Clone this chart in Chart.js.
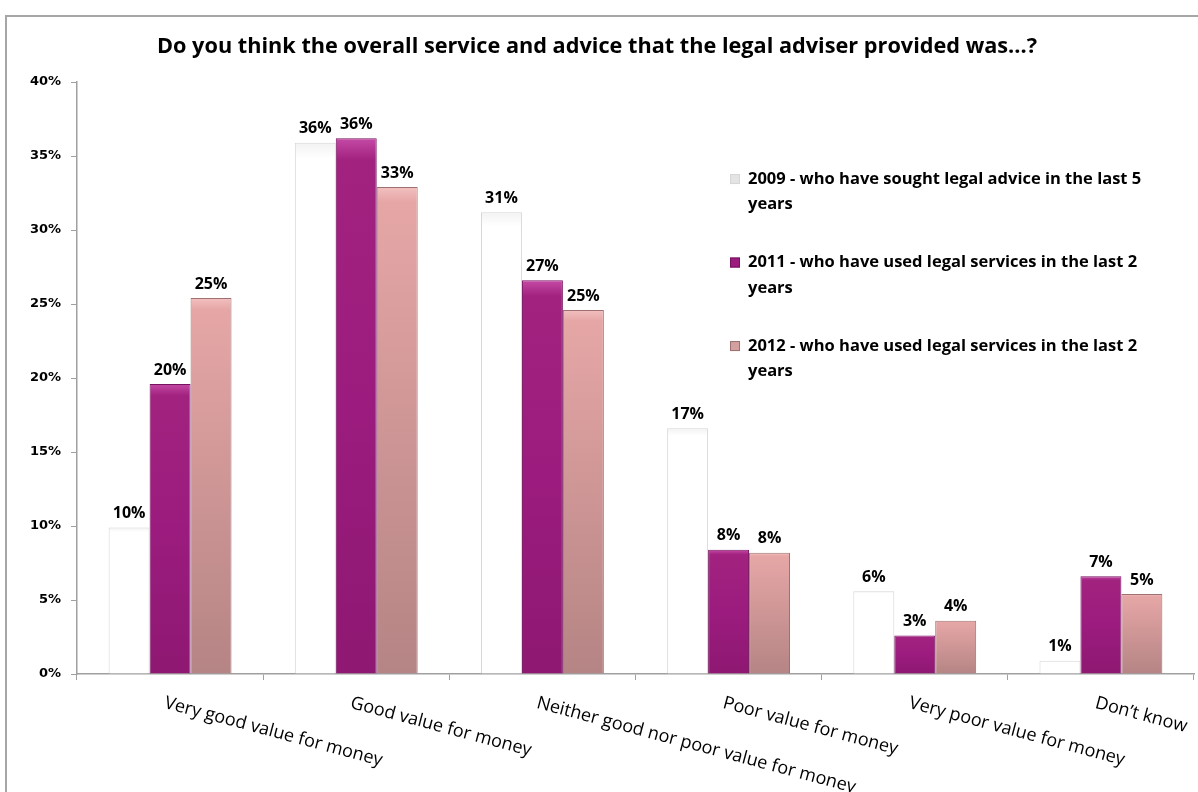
<!DOCTYPE html>
<html><head><meta charset="utf-8">
<script src="https://cdn.jsdelivr.net/npm/chart.js@4.4.0/dist/chart.umd.min.js"></script>
<style>
html,body{margin:0;padding:0;background:#fff;overflow:hidden}
#wrap{position:relative;width:1198px;height:792px;overflow:hidden}
#frame{position:absolute;left:5px;top:15px;width:1300px;height:900px;border-left:2px solid #A6A6A6;border-top:2px solid #A6A6A6;pointer-events:none}
canvas{position:absolute;left:0;top:0}
</style></head><body>
<div id="wrap"><canvas id="c" width="1198" height="792"></canvas><div id="frame"></div></div>
<script>
const titleText = "Do you think the overall service and advice that the legal adviser provided was...?";
const categories = ["Very good value for money", "Good value for money", "Neither good nor poor value for money", "Poor value for money", "Very poor value for money", "Don\u2019t know"];
const seriesLabels = [
  ["2009 - who have sought legal advice in the last 5", "years"],
  ["2011 - who have used legal services in the last 2", "years"],
  ["2012 - who have used legal services in the last 2", "years"]
];
const values2009 = [9.9, 35.9, 31.2, 16.6, 5.6, 0.9];
const values2011 = [19.6, 36.2, 26.6, 8.4, 2.6, 6.6];
const values2012 = [25.4, 32.9, 24.6, 8.2, 3.6, 5.4];
const yMin = 0, yMax = 40, yStep = 5;

const LABEL_FONT = "'Open Sans', Lato, sans-serif";

function gradFill(stops, fallback) {
  return (c) => {
    const chart = c.chart;
    if (!chart.chartArea || c.raw === undefined) return fallback;
    const y = chart.scales.y;
    const top = y.getPixelForValue(c.raw), bot = y.getPixelForValue(0);
    const g = chart.ctx.createLinearGradient(0, top, 0, bot + 0.01);
    stops.forEach(s => g.addColorStop(s[0], s[1]));
    return g;
  };
}

const styles = [
  {stops: [[0, '#F2F2F2'], [0.03, '#FFFFFF'], [1, '#FFFFFF']], fb: '#FFFFFF', border: '#D6D6D6', marker: '#E4E4E4'},
  {stops: [[0, '#C44AA6'], [0.04, '#A2227F'], [0.5, '#9B1C7E'], [1, '#8E1872']], fb: '#9B1C7E', border: '#76135F', marker: '#9B1C7E'},
  {stops: [[0, '#F2C0C0'], [0.03, '#E6A6A6'], [1, '#B58484']], fb: '#D49B9B', border: '#9E7070', marker: '#D2A0A0'}
];
const seriesData = [values2009, values2011, values2012];

const datasets = seriesData.map((d, i) => ({
  label: seriesLabels[i].join(' '),
  data: d,
  backgroundColor: gradFill(styles[i].stops, styles[i].fb),
  borderColor: styles[i].border,
  borderWidth: 1,
  borderSkipped: 'bottom',
  categoryPercentage: 0.66,
  barPercentage: 1.0
}));

const dataLabelPlugin = {
  id: 'dataLabels',
  afterDatasetsDraw(chart) {
    const ctx = chart.ctx;
    ctx.save();
    ctx.font = "bold 16px " + LABEL_FONT;
    ctx.fillStyle = '#000';
    ctx.textAlign = 'center';
    ctx.textBaseline = 'bottom';
    chart.data.datasets.forEach((ds, di) => {
      const meta = chart.getDatasetMeta(di);
      meta.data.forEach((el, i) => {
        ctx.fillText(Math.round(ds.data[i]) + '%', el.x, el.y - 6);
      });
    });
    ctx.restore();
  }
};

const xLabelPlugin = {
  id: 'xLabels',
  afterDraw(chart) {
    const ctx = chart.ctx, xs = chart.scales.x, area = chart.chartArea;
    ctx.save();
    ctx.font = "18px " + LABEL_FONT;
    ctx.fillStyle = '#000';
    ctx.textAlign = 'left';
    ctx.textBaseline = 'top';
    chart.data.labels.forEach((lab, i) => {
      const x = xs.getPixelForValue(i);
      ctx.save();
      ctx.translate(x - 3, area.bottom + 20);
      ctx.rotate(15 * Math.PI / 180);
      ctx.fillText(lab, 0, 0);
      ctx.restore();
    });
    ctx.restore();
  }
};

const legendPlugin = {
  id: 'customLegend',
  afterDraw(chart) {
    const ctx = chart.ctx, area = chart.chartArea;
    ctx.save();
    ctx.font = "bold 16.5px " + LABEL_FONT;
    ctx.fillStyle = '#000';
    ctx.textBaseline = 'middle';
    ctx.textAlign = 'left';
    const x0 = area.left + 653, y0 = area.top + 97, gap = 83.5, lh = 25.5;
    seriesLabels.forEach((lines, i) => {
      const y = y0 + i * gap;
      ctx.fillStyle = styles[i].marker;
      ctx.fillRect(x0, y - 5, 10, 10);
      ctx.strokeStyle = styles[i].border;
      ctx.lineWidth = 1;
      ctx.strokeRect(x0 + 0.5, y - 4.5, 9, 9);
      ctx.fillStyle = '#000';
      lines.forEach((t, k) => ctx.fillText(t, x0 + 18, y + k * lh));
    });
    ctx.restore();
  }
};

new Chart(document.getElementById('c'), {
  type: 'bar',
  data: { labels: categories, datasets },
  plugins: [dataLabelPlugin, xLabelPlugin, legendPlugin],
  options: {
    responsive: false,
    animation: false,
    layout: { padding: { left: 0, right: 4, top: 0, bottom: 112 } },
    plugins: {
      legend: { display: false },
      tooltip: { enabled: false },
      title: {
        display: true,
        text: titleText,
        color: '#000',
        font: { family: LABEL_FONT, size: 21.7, weight: 'bold' },
        padding: { top: 34, bottom: 22 }
      }
    },
    scales: {
      x: {
        offset: true,
        grid: { display: true, offset: true, drawOnChartArea: false, color: '#A0A0A0', tickLength: 6 },
        border: { color: '#A0A0A0', width: 1.5 },
        ticks: { display: false }
      },
      y: {
        min: yMin, max: yMax,
        afterFit(s) { s.width = 77; },
        ticks: {
          stepSize: yStep,
          color: '#000',
          padding: 10,
          font: { family: "'DejaVu Sans', Verdana, sans-serif", size: 13, weight: 'bold' },
          callback: v => v + '%'
        },
        grid: { display: true, drawOnChartArea: false, color: '#A0A0A0', tickLength: 6 },
        border: { color: '#A0A0A0', width: 1.5 }
      }
    }
  }
});
</script>
</body></html>
